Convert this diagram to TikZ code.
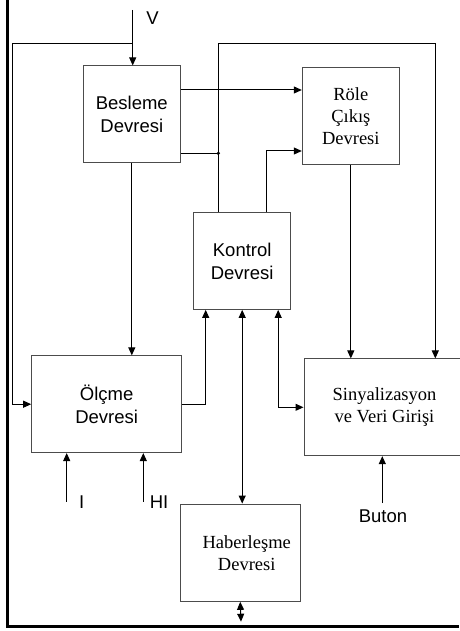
\documentclass[tikz,border=0pt]{standalone}
\usepackage{fontspec}
\setmainfont{Liberation Serif}
\setsansfont{Liberation Sans}
\usetikzlibrary{arrows.meta}

\begin{document}
\begin{tikzpicture}[
    x=1pt, y=-1pt,
    blok/.style={draw=black!70, line width=1pt, minimum width=97pt, minimum height=96.7pt, align=center, inner sep=0pt},
    sans/.style={font=\sffamily\fontsize{18.5}{23}\selectfont},
    serif/.style={font=\rmfamily\fontsize{18.5}{22}\selectfont},
    ok/.style={line width=1pt, -{Triangle[length=8pt, width=7pt]}},
    cift/.style={line width=1pt, {Triangle[length=8pt, width=7pt]}-{Triangle[length=8pt, width=7pt]}}
  ]
  \useasboundingbox (0,0) rectangle (459,631);

  % bloklar
  \node[blok, sans] (besleme) at (131.8,114.3) {Besleme\\Devresi};
  \node[blok, serif] (role) at (350.8,116) {Röle\\Çıkış\\Devresi};
  \node[blok, sans] (kontrol) at (242.2,261) {Kontrol\\Devresi};
  \node[blok, sans, minimum width=150pt] (olcme) at (106.7,404.2) {Ölçme\\Devresi};
  \node[blok, serif, minimum width=161pt] (sinyal) at (384.5,407.3) {Sinyalizasyon\\ve Veri Girişi};
  \node[blok, serif, minimum width=120.3pt, minimum height=97.3pt] (haber) at (240.2,552.7) {\hspace*{13pt}Haberleşme\\\hspace*{13pt}Devresi};

  % girisler
  \coordinate (vin) at (132.7,10);
  \coordinate (iin) at (66.7,501.7);
  \coordinate (hiin) at (143.3,501.7);
  \coordinate (bin) at (382.3,503);
  \coordinate (hout) at (241,621.7);
  \coordinate (jv) at (132.7,43.3);
  \coordinate (lft) at (12.7,43.3);
  \coordinate (dot) at (218.3,153.3);
  \coordinate (tr) at (435.3,43.3);
  \node[sans] (vlbl) at (152.5,18) {V};
  \node[sans] (ilbl) at (81.7,502) {I};
  \node[sans] (hilbl) at (159,502) {HI};
  \node[sans] (blbl) at (383,516.5) {Buton};

  % baglantilar
  \draw[ok] (vin) -- (vin |- besleme.north);
  \draw[ok] (jv) -- (lft) |- (olcme.west);
  \draw[ok] ([yshift=24.3pt]besleme.east) -- ([yshift=24.3pt]besleme.east -| role.west);
  \draw[line width=1pt] ([yshift=-39pt]besleme.east) -- (dot);
  \fill (dot) circle (1.8pt);
  \draw[ok] ([xshift=-23.9pt]kontrol.north) |- (tr) -- (tr |- sinyal.north);
  \draw[ok] ([xshift=24.5pt]kontrol.north) |- ([yshift=-35pt]role.west);
  \draw[ok] (besleme.south) -- (besleme.south |- olcme.north);
  \draw[ok] (olcme.east) -| ([xshift=-36.5pt]kontrol.south);
  \draw[cift] (kontrol.south) -- (kontrol.south |- haber.north);
  \draw[cift] ([xshift=36pt]kontrol.south) |- (sinyal.west);
  \draw[ok] (role.south) -- (role.south |- sinyal.north);
  \draw[ok] (iin) -- (iin |- olcme.south);
  \draw[ok] (hiin) -- (hiin |- olcme.south);
  \draw[ok] (bin) -- (bin |- sinyal.south);
  \draw[cift] (haber.south) -- (hout);

  % cerceve
  \draw[line width=3pt] (7.5,0) -- (7.5,626) -- (459,626);
\end{tikzpicture}
\end{document}
